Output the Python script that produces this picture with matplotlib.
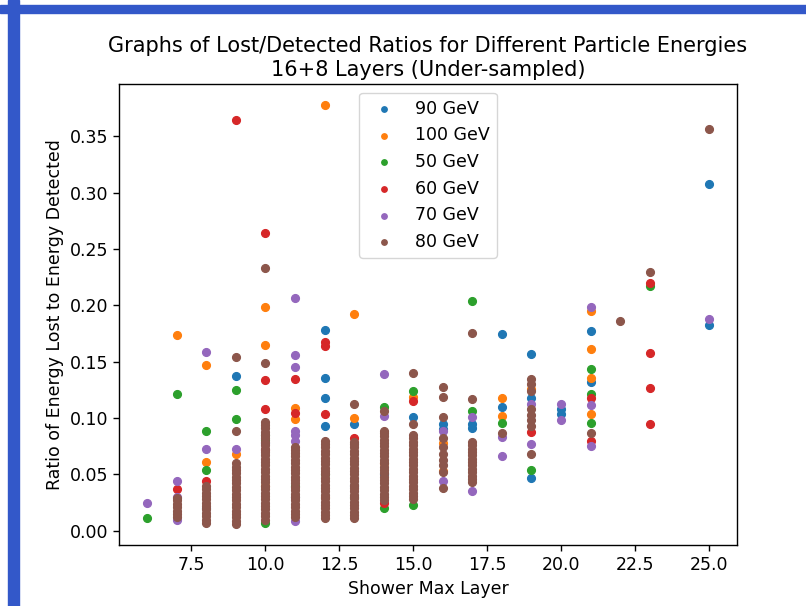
import matplotlib
matplotlib.use("Agg")
import matplotlib.pyplot as plt
from matplotlib.patches import Rectangle

# ── data: (shower max layer, lost/detected ratio) per particle energy ──
x_90 = [9, 10, 12, 12, 12, 12, 13, 15, 16, 16, 17, 17, 18, 18, 19, 19, 19,
        20, 20, 21, 21, 25, 25, 8, 11, 13, 14]
y_90 = [0.137, 0.078, 0.178, 0.136, 0.118, 0.093, 0.095, 0.101, 0.095, 0.090,
        0.095, 0.091, 0.175, 0.110, 0.157, 0.118, 0.047, 0.108, 0.104, 0.177,
        0.132, 0.308, 0.183, 0.020, 0.030, 0.040, 0.050]

x_100 = [7, 8, 8, 9, 10, 10, 11, 11, 12, 13, 13, 15, 16, 16, 18, 18, 19,
         21, 21, 21, 21, 10, 12, 14]
y_100 = [0.174, 0.147, 0.061, 0.068, 0.199, 0.165, 0.109, 0.099, 0.378, 0.192,
         0.100, 0.119, 0.078, 0.053, 0.118, 0.102, 0.126, 0.195, 0.161, 0.136,
         0.104, 0.040, 0.030, 0.060]

x_50 = [6, 7, 8, 8, 9, 9, 10, 10, 10, 14, 14, 15, 15, 17, 17, 18, 19, 21,
        21, 21, 23, 11, 12, 13]
y_50 = [0.011, 0.121, 0.089, 0.054, 0.125, 0.099, 0.085, 0.081, 0.007, 0.110,
        0.020, 0.124, 0.023, 0.204, 0.106, 0.096, 0.054, 0.144, 0.121, 0.096,
        0.217, 0.040, 0.050, 0.030]

x_60 = [7, 8, 9, 10, 10, 10, 10, 11, 11, 12, 12, 12, 13, 14, 15, 19, 21, 21,
        23, 23, 23, 23]
y_60 = [0.037, 0.044, 0.365, 0.264, 0.134, 0.108, 0.072, 0.135, 0.105, 0.168,
        0.164, 0.104, 0.082, 0.025, 0.115, 0.088, 0.118, 0.080, 0.220, 0.158,
        0.127, 0.095]

x_70 = [6, 7, 7, 7, 8, 8, 9, 11, 11, 11, 11, 11, 11, 11, 14, 14, 16, 16,
        17, 17, 18, 18, 19, 19, 20, 20, 21, 21, 21, 25]
y_70 = [0.025, 0.044, 0.030, 0.010, 0.159, 0.073, 0.073, 0.207, 0.156, 0.145,
        0.089, 0.085, 0.080, 0.009, 0.139, 0.102, 0.089, 0.044, 0.101, 0.035,
        0.083, 0.066, 0.077, 0.113, 0.113, 0.098, 0.199, 0.112, 0.075, 0.188]

# 80 GeV is drawn last, so its dense columns hide most of the others
y_80_l7 = [0.012, 0.015, 0.018, 0.021, 0.024, 0.027, 0.029]
y_80_l8 = [0.007, 0.010, 0.013, 0.016, 0.019, 0.022, 0.025, 0.028, 0.031,
           0.034, 0.037, 0.040]
y_80_l9 = [0.006, 0.009, 0.012, 0.015, 0.018, 0.021, 0.024, 0.027, 0.030,
           0.033, 0.036, 0.039, 0.042, 0.045, 0.048, 0.051, 0.054, 0.057,
           0.060, 0.089, 0.154]
y_80_l10 = [0.010, 0.013, 0.016, 0.019, 0.022, 0.025, 0.028, 0.031, 0.034,
            0.037, 0.040, 0.043, 0.046, 0.049, 0.052, 0.055, 0.058, 0.061,
            0.064, 0.067, 0.070, 0.073, 0.076, 0.079, 0.082, 0.085, 0.088,
            0.091, 0.094, 0.097, 0.149, 0.233]
y_80_l11 = [0.012, 0.015, 0.018, 0.021, 0.024, 0.027, 0.030, 0.033, 0.036,
            0.039, 0.042, 0.045, 0.048, 0.051, 0.054, 0.057, 0.060, 0.063,
            0.066, 0.069, 0.072, 0.074]
y_80_l12 = [0.011, 0.014, 0.017, 0.020, 0.023, 0.026, 0.029, 0.032, 0.035,
            0.038, 0.041, 0.044, 0.047, 0.050, 0.053, 0.056, 0.059, 0.062,
            0.065, 0.068, 0.071, 0.074, 0.077, 0.080]
y_80_l13 = [0.011, 0.014, 0.017, 0.020, 0.023, 0.026, 0.029, 0.032, 0.035,
            0.038, 0.041, 0.044, 0.047, 0.050, 0.053, 0.056, 0.059, 0.062,
            0.065, 0.068, 0.071, 0.074, 0.077, 0.079, 0.113]
y_80_l14 = [0.027, 0.030, 0.033, 0.036, 0.039, 0.042, 0.045, 0.048, 0.051,
            0.054, 0.057, 0.060, 0.063, 0.066, 0.069, 0.072, 0.075, 0.078,
            0.081, 0.084, 0.087, 0.089, 0.106]
y_80_l15 = [0.028, 0.031, 0.034, 0.037, 0.040, 0.043, 0.046, 0.049, 0.052,
            0.055, 0.058, 0.061, 0.064, 0.067, 0.070, 0.073, 0.076, 0.079,
            0.082, 0.085, 0.095, 0.140]
y_80_l16 = [0.038, 0.052, 0.058, 0.063, 0.068, 0.074, 0.082, 0.101, 0.119, 0.128]
y_80_l17 = [0.043, 0.046, 0.049, 0.052, 0.055, 0.058, 0.061, 0.064, 0.067,
            0.070, 0.073, 0.076, 0.079, 0.117, 0.176]
y_80_l18 = [0.087]
y_80_l19 = [0.135, 0.130, 0.124, 0.108, 0.103, 0.098, 0.093, 0.068]
y_80_l21 = [0.087]
y_80_l22 = [0.186]
y_80_l23 = [0.230]
y_80_l25 = [0.357]

cols_80 = [(7, y_80_l7), (8, y_80_l8), (9, y_80_l9), (10, y_80_l10),
           (11, y_80_l11), (12, y_80_l12), (13, y_80_l13), (14, y_80_l14),
           (15, y_80_l15), (16, y_80_l16), (17, y_80_l17), (18, y_80_l18),
           (19, y_80_l19), (21, y_80_l21), (22, y_80_l22), (23, y_80_l23),
           (25, y_80_l25)]
x_80 = [layer for layer, ys in cols_80 for _ in ys]
y_80 = [v for _, ys in cols_80 for v in ys]

series = [("90 GeV", x_90, y_90), ("100 GeV", x_100, y_100),
          ("50 GeV", x_50, y_50), ("60 GeV", x_60, y_60),
          ("70 GeV", x_70, y_70), ("80 GeV", x_80, y_80)]

fig = plt.figure(figsize=(8.06, 6.06), dpi=100)

# blue frame of the screenshot
fig.patches.append(Rectangle((8 / 806, 0), 11 / 806, 1, transform=fig.transFigure,
                             color="#3358c9", zorder=0))
fig.patches.append(Rectangle((0, 1 - 13 / 606), 1, 8 / 606, transform=fig.transFigure,
                             color="#3358c9", zorder=0))

ax = fig.add_axes([119 / 806, 61 / 606, 618 / 806, 461 / 606])
for label, xs, ys in series:
    ax.scatter(xs, ys, s=31, label=label)

ax.set_title("Graphs of Lost/Detected Ratios for Different Particle Energies\n"
             "16+8 Layers (Under-sampled)", fontsize=15)
ax.set_xlabel("Shower Max Layer", fontsize=12.5)
ax.set_ylabel("Ratio of Energy Lost to Energy Detected", fontsize=12.5)
ax.tick_params(labelsize=12.5, length=4.5, width=1)
for sp in ax.spines.values():
    sp.set_linewidth(1)
ax.legend(loc="upper center", fontsize=12.5, markerscale=0.7)

plt.savefig("out.png", dpi=100)
